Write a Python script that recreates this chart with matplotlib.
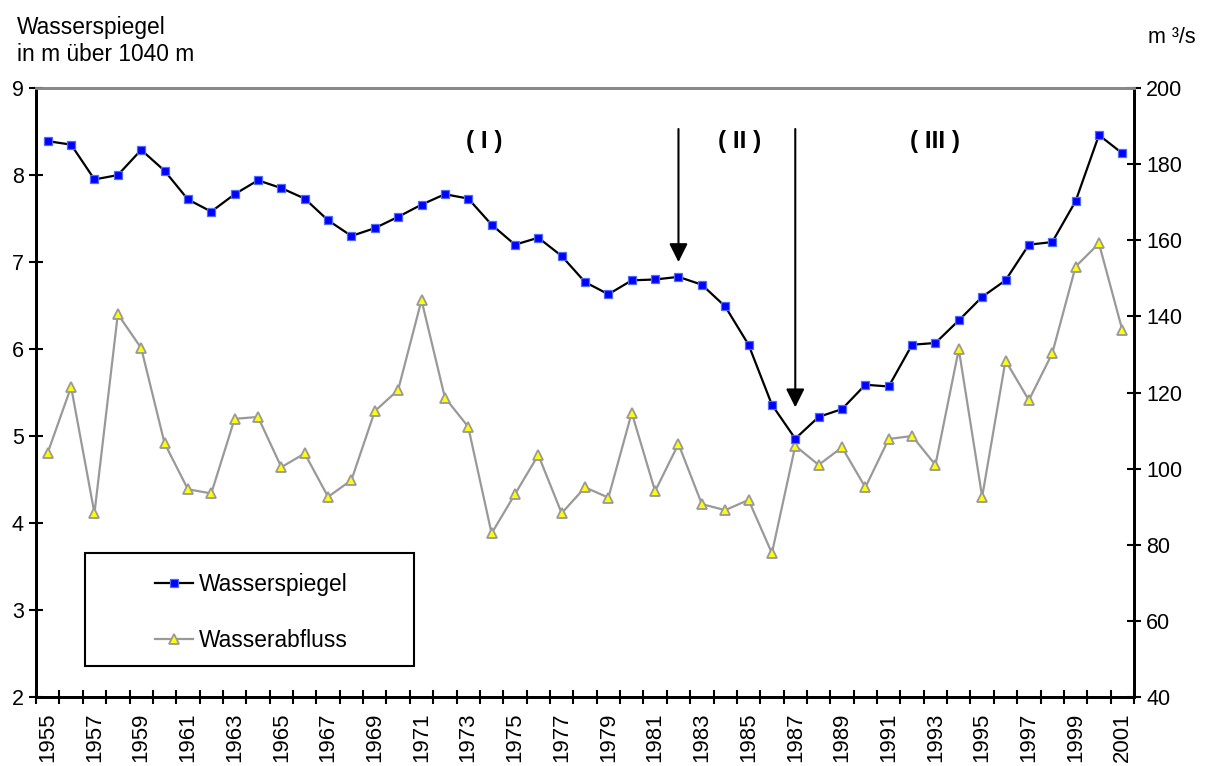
import numpy as np
import matplotlib.pyplot as plt
from matplotlib.patches import Rectangle

plt.rcParams['font.family'] = ['Liberation Sans', 'DejaVu Sans']

years = list(range(1955, 2002))
wasserspiegel = [8.39, 8.35, 7.95, 8.00, 8.29, 8.05, 7.72, 7.58, 7.78, 7.94,
                 7.85, 7.73, 7.48, 7.30, 7.39, 7.52, 7.66, 7.78, 7.73, 7.43,
                 7.20, 7.28, 7.07, 6.77, 6.63, 6.79, 6.80, 6.83, 6.74, 6.49,
                 6.05, 5.36, 4.97, 5.22, 5.31, 5.59, 5.57, 6.05, 6.07, 6.33,
                 6.60, 6.79, 7.20, 7.23, 7.70, 8.46, 8.25]
wasserabfluss = [104.2, 121.5, 88.3, 140.6, 131.7, 106.7, 94.6, 93.5, 113.1, 113.6,
                 100.4, 104.0, 92.6, 97.0, 115.1, 120.7, 144.3, 118.7, 111.0, 83.0,
                 93.3, 103.6, 88.3, 95.1, 92.4, 114.7, 94.1, 106.5, 90.7, 89.1,
                 91.8, 77.8, 106.0, 101.0, 105.6, 95.1, 107.8, 108.6, 101.0, 131.4,
                 92.6, 128.4, 118.0, 130.3, 153.1, 159.2, 136.4]

# Phasen und Pfeile
phase_labels = ['( I )', '( II )', '( III )']
phase_pos = [18.7, 29.6, 38.0]
arrow_years = [1982, 1987]
arrow_tips = [7.0, 5.33]

n = len(years)
x = np.arange(n)

fig = plt.figure(figsize=(12.06, 7.66), dpi=100)
ax = fig.add_axes([0.0299, 0.090, 0.9104, 0.795])
ax2 = ax.twinx()

ax.plot(x, wasserspiegel, color='black', lw=1.6, marker='s', ms=5.5,
        mfc='#0000ff', mec='#4d6bff', mew=0.9, label='Wasserspiegel', zorder=3)
ax2.plot(x, wasserabfluss, color='#999999', lw=1.6, marker='^', ms=7.5,
         mfc='#ffff00', mec='#999999', mew=1.3, label='Wasserabfluss', zorder=2)
ax.set_zorder(ax2.get_zorder() + 1)
ax.patch.set_visible(False)

ax.set_xlim(-0.5, n - 0.5)
ax.set_ylim(2, 9)
ax2.set_ylim(40, 200)
ax.set_yticks(range(2, 10))
ax2.set_yticks(range(40, 201, 20))

# Tickmarks an den Kategoriegrenzen, Beschriftung in der Mitte
ax.set_xticks(np.arange(-0.5, n, 1.0))
ax.set_xticklabels([])
ax.set_xticks(x[::2], minor=True)
ax.set_xticklabels([str(y) for y in years[::2]], minor=True, rotation=90,
                   fontsize=16)
ax.tick_params(axis='x', which='major', direction='inout', length=10.5, width=1.5)
ax.tick_params(axis='x', which='minor', length=0, pad=11)
ax.tick_params(axis='y', direction='inout', length=10.5, width=1.5, labelsize=15.5)
ax2.tick_params(axis='y', direction='inout', length=10.5, width=1.5, labelsize=15.5)

for a in (ax, ax2):
    for side in ('left', 'right', 'bottom'):
        a.spines[side].set_linewidth(2)
        a.spines[side].set_color('black')
    a.spines['top'].set_color('#888888')
    a.spines['top'].set_linewidth(2)

# Phasen-Beschriftung und Pfeile
for lab, pos in zip(phase_labels, phase_pos):
    ax.text(pos, 8.39, lab, fontsize=17.5, fontweight='bold', ha='center', va='center')
for yr, tip in zip(arrow_years, arrow_tips):
    xi = years.index(yr)
    ax.annotate('', xy=(xi, tip), xytext=(xi, 8.53),
                arrowprops=dict(arrowstyle='-|>', color='black', lw=1.5,
                                mutation_scale=28, shrinkA=0, shrinkB=0))

# Legende: Rahmen separat, Eintraege ohne Rahmen
frame = Rectangle((0.0446, 0.051), 0.2996, 0.185, transform=ax.transAxes,
                  fill=True, facecolor='white', edgecolor='black', lw=1.5, zorder=5)
ax.add_patch(frame)
h1, l1 = ax.get_legend_handles_labels()
h2, l2 = ax2.get_legend_handles_labels()
leg = ax.legend(h1 + h2, l1 + l2, loc='upper left',
                bbox_to_anchor=(0.108, 0.203), fontsize=16.4, frameon=False,
                borderpad=0, labelspacing=1.43, handlelength=1.7,
                handletextpad=0.25, borderaxespad=0)
leg.set_zorder(6)

fig.text(0.014, 0.979, 'Wasserspiegel\nin m über 1040 m', fontsize=16.4,
         ha='left', va='top', linespacing=1.22)
fig.text(0.952, 0.951, 'm ³/s', fontsize=15.5, ha='left', va='center')

fig.savefig('out.png', dpi=100)
